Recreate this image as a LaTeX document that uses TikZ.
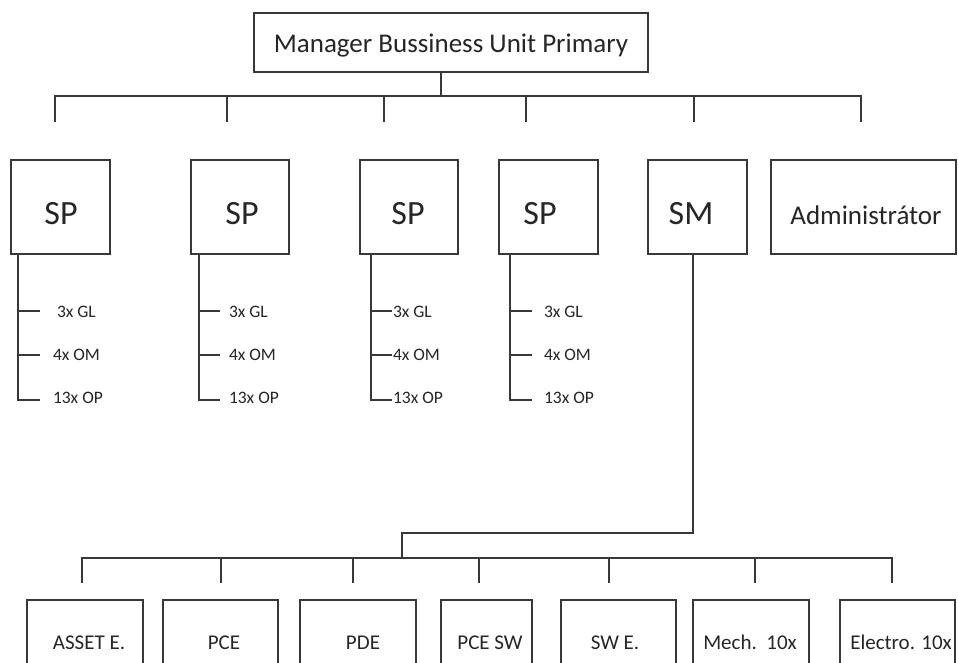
\documentclass[tikz,border=0pt]{standalone}
\usepackage{fontspec}
\setmainfont{Carlito}
\begin{document}
\begin{tikzpicture}[x=1pt,y=-1pt,
  line/.style={draw=black!78,line width=1.4pt},
  box/.style={draw=black!78,line width=1.4pt,rectangle,inner sep=0pt,outer sep=0pt,anchor=north west},
  lbl/.style={text=black!85,inner sep=0pt,outer sep=0pt,anchor=base},
  bigtxt/.style={lbl,font=\fontsize{34}{40}\selectfont},
  midtxt/.style={lbl,font=\fontsize{27}{32}\selectfont},
  bottxt/.style={lbl,font=\fontsize{21}{25}\selectfont},
  smalltxt/.style={lbl,anchor=base west,font=\fontsize{17.5}{21}\selectfont}]
\useasboundingbox (0,0) rectangle (958,663);
\fill[white] (0,0) rectangle (958,663);
\clip (0,0) rectangle (958,663);

% top box
\node[box,minimum width=394pt,minimum height=59pt] (mgr) at (254,13) {};
\node[midtxt] (mgrT) at (451,53) {Manager Bussiness Unit Primary};

% second row boxes
\node[box,minimum width=99pt,minimum height=94pt] (sp1) at (11,160) {};
\node[box,minimum width=98pt,minimum height=94pt] (sp2) at (191,160) {};
\node[box,minimum width=98pt,minimum height=94pt] (sp3) at (360,160) {};
\node[box,minimum width=99pt,minimum height=94pt] (sp4) at (499,160) {};
\node[box,minimum width=99pt,minimum height=94pt] (sm) at (648,160) {};
\node[box,minimum width=185pt,minimum height=94pt] (adm) at (771,160) {};
\node[bigtxt] (sp1T) at (61,224) {SP};
\node[bigtxt] (sp2T) at (242,224) {SP};
\node[bigtxt] (sp3T) at (408,224) {SP};
\node[bigtxt] (sp4T) at (540,224) {SP};
\node[bigtxt] (smT) at (691,224) {SM};
\node[midtxt] (admT) at (866,225) {Administrátor};

% distribution bus under the manager
\coordinate (hub) at (441,96);
\foreach \n/\x in {d1/55,d2/227,d3/384,d4/526,d5/694,d6/861}
  \coordinate (\n) at (\x,122);
\draw[line] (mgr.south -| hub) -- (hub);
\draw[line] (d1) |- (hub) -| (d6);
\foreach \n in {d2,d3,d4,d5}
  \draw[line] (\n) -- (\n |- hub);

% staff lists under each SP
\foreach \b/\sx/\tx/\gx/\lx in {sp1/18/40/57/53, sp2/199/220/229/229, sp3/371/392/393/393, sp4/510/532/544/544} {
  \coordinate (\b-bot) at (\sx,400);
  \coordinate (\b-gl) at (\sx,311);
  \coordinate (\b-om) at (\sx,355);
  \draw[line] (\b.south -| \b-bot) -- (\b-bot) -- (\tx,400);
  \draw[line] (\b-gl) -- (\tx,311);
  \draw[line] (\b-om) -- (\tx,355);
  \node[smalltxt] (\b-glT) at (\gx,317) {3x GL};
  \node[smalltxt] (\b-omT) at (\lx,360) {4x OM};
  \node[smalltxt] (\b-opT) at (\lx,403) {13x OP};
}

% SM branch
\coordinate (smturn) at (693,533);
\coordinate (bhub) at (402,558);
\draw[line] (sm.south -| smturn) -- (smturn) -| (bhub);
\foreach \n/\x in {b1/82,b2/221,b3/353,b4/479,b5/609,b6/755,b7/892}
  \coordinate (\n) at (\x,583);
\draw[line] (b1) |- (bhub) -| (b7);
\foreach \n in {b2,b3,b4,b5,b6}
  \draw[line] (\n) -- (\n |- bhub);

% bottom row
\node[box,minimum width=116pt,minimum height=100pt] (ae) at (27,600) {};
\node[box,minimum width=115pt,minimum height=100pt] (pce) at (163,600) {};
\node[box,minimum width=116pt,minimum height=100pt] (pde) at (300,600) {};
\node[box,minimum width=91pt,minimum height=100pt] (pcesw) at (441,600) {};
\node[box,minimum width=115pt,minimum height=100pt] (swe) at (561,600) {};
\node[box,minimum width=116pt,minimum height=100pt] (mech) at (693,600) {};
\node[box,minimum width=115pt,minimum height=100pt] (el) at (840,600) {};
\node[bottxt] (aeT) at (89,649) {ASSET E.};
\node[bottxt] (pceT) at (224,649) {PCE};
\node[bottxt] (pdeT) at (363,649) {PDE};
\node[bottxt] (pceswT) at (490,649) {PCE SW};
\node[bottxt] (sweT) at (615,649) {SW E.};
\node[bottxt] (mechT) at (750,649) {Mech.\ \ 10x};
\node[bottxt] (elT) at (901,649) {Electro. 10x};
\end{tikzpicture}
\end{document}
